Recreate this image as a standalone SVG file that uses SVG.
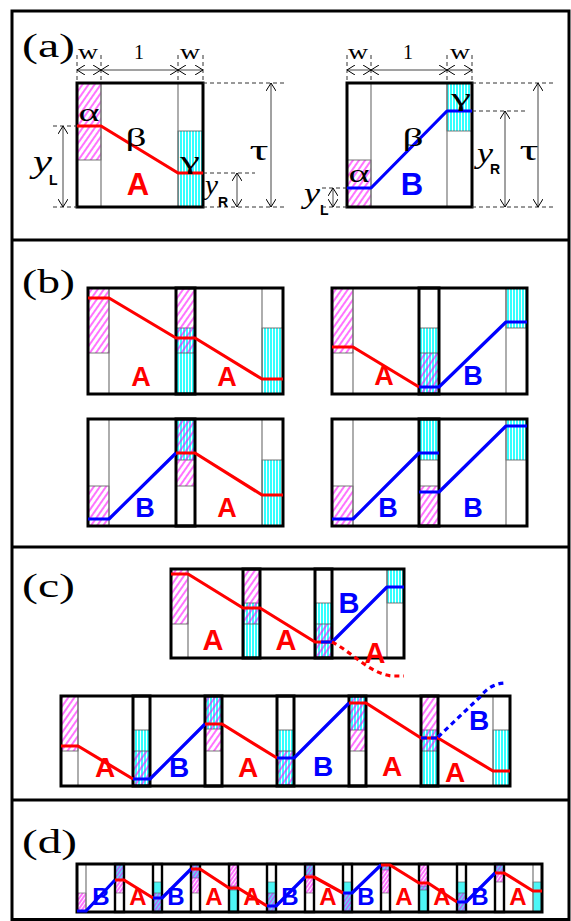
<svg xmlns="http://www.w3.org/2000/svg" width="571" height="921" viewBox="0 0 571 921">
<style>
.box{fill:none;stroke:#000;stroke-width:3}
.jn{fill:none;stroke:#000;stroke-width:3}
.jd{fill:none;stroke:#000;stroke-width:2.4}
.thin{stroke:#777;stroke-width:1.2}
.m{fill:url(#hm);stroke:#555;stroke-width:.8}
.c{fill:url(#hc);stroke:#555;stroke-width:.8}
.m2{fill:url(#hm2);stroke:#555;stroke-width:.6}
.c2{fill:url(#hc2);stroke:#555;stroke-width:.6}
.r{fill:none;stroke:#f00;stroke-width:3.2;stroke-linejoin:round}
.b{fill:none;stroke:#00f;stroke-width:3.2;stroke-linejoin:round}
.dash{stroke:#333;stroke-width:1;stroke-dasharray:4 3;fill:none}
.dim{stroke:#444;stroke-width:1;marker-start:url(#ar);marker-end:url(#ar)}
.ser{font-family:"Liberation Serif","Times New Roman",serif;fill:#000}
.it{font-style:italic}
.sub{font-family:"Liberation Sans",Arial,sans-serif;font-weight:bold;font-size:14px}
.A{font-family:"Liberation Sans",Arial,sans-serif;font-weight:bold;fill:#f00;text-anchor:middle}
.B{font-family:"Liberation Sans",Arial,sans-serif;font-weight:bold;fill:#00f;text-anchor:middle}
</style>
<defs>
<pattern id="hm" width="5" height="5" patternUnits="userSpaceOnUse" patternTransform="rotate(35)"><line x1="1" y1="0" x2="1" y2="5" stroke="#f0f" stroke-width="1.1"/></pattern>
<pattern id="hc" width="3" height="4" patternUnits="userSpaceOnUse"><rect width="3" height="4" fill="#fff"/><line x1="1" y1="0" x2="1" y2="4" stroke="#0ff" stroke-width="1.6"/></pattern>
<pattern id="hm2" width="3" height="3" patternUnits="userSpaceOnUse" patternTransform="rotate(35)"><line x1="1" y1="0" x2="1" y2="3" stroke="#f0f" stroke-width="1.1"/></pattern>
<pattern id="hc2" width="2" height="4" patternUnits="userSpaceOnUse"><rect width="2" height="4" fill="#7ff"/><line x1="1" y1="0" x2="1" y2="4" stroke="#2ee" stroke-width="1"/></pattern>
<marker id="ar" viewBox="0 0 8 10" markerWidth="8" markerHeight="10" refX="8" refY="5" orient="auto-start-reverse" markerUnits="userSpaceOnUse"><path d="M0,0 L8,5 L0,10" fill="none" stroke="#000" stroke-width="1"/></marker>
</defs>

<rect x="0" y="0" width="571" height="921" fill="#fff"/>
<g id="frame">
<rect x="12" y="11" width="557" height="908.5" fill="none" stroke="#000" stroke-width="3"/>
<line x1="12" y1="240" x2="569" y2="240" stroke="#000" stroke-width="3"/>
<line x1="12" y1="547" x2="569" y2="547" stroke="#000" stroke-width="3"/>
<line x1="12" y1="800" x2="569" y2="800" stroke="#000" stroke-width="3"/>
</g>

<g id="panel-labels">
<text class="ser" x="22" y="57" font-size="34" textLength="53" lengthAdjust="spacingAndGlyphs">(a)</text>
<text class="ser" x="22" y="293" font-size="34" textLength="53" lengthAdjust="spacingAndGlyphs">(b)</text>
<text class="ser" x="22" y="597" font-size="34" textLength="53" lengthAdjust="spacingAndGlyphs">(c)</text>
<text class="ser" x="22" y="853" font-size="34" textLength="55" lengthAdjust="spacingAndGlyphs">(d)</text>
</g>

<!-- (a) left -->
<g id="a-left">
<rect x="77" y="83" width="126" height="124" fill="#fff"/>
<rect class="m" x="77" y="83" width="24" height="77"/>
<rect class="c" x="178" y="131" width="25" height="76"/>
<line class="thin" x1="101" y1="83" x2="101" y2="207"/>
<line class="thin" x1="178" y1="83" x2="178" y2="207"/>
<rect class="box" x="77" y="83" width="126" height="124"/>
<polyline class="r" stroke-width="3.6" points="77,126 101,126 178,173 203,173"/>
<text class="ser" x="89" y="121" font-size="26" text-anchor="middle" textLength="21" lengthAdjust="spacingAndGlyphs">α</text>
<text class="ser" x="136" y="146" font-size="26" text-anchor="middle" textLength="21" lengthAdjust="spacingAndGlyphs">β</text>
<text class="ser" x="190" y="169" font-size="26" text-anchor="middle" textLength="20" lengthAdjust="spacingAndGlyphs">γ</text>
<text class="A" x="138" y="195" font-size="31">A</text>
</g>
<g id="a-left-dims">
<line class="dash" x1="77" y1="55" x2="77" y2="83"/>
<line class="dash" x1="101" y1="55" x2="101" y2="83"/>
<line class="dash" x1="178" y1="55" x2="178" y2="83"/>
<line class="dash" x1="203" y1="55" x2="203" y2="83"/>
<line class="dim" x1="77" y1="70" x2="101" y2="70"/>
<line class="dim" x1="101" y1="70" x2="178" y2="70"/>
<line class="dim" x1="178" y1="70" x2="203" y2="70"/>
<text class="ser" x="88" y="59" font-size="22" text-anchor="middle" textLength="20" lengthAdjust="spacingAndGlyphs">w</text>
<text class="ser" x="139" y="59" font-size="20" text-anchor="middle">1</text>
<text class="ser" x="190" y="59" font-size="22" text-anchor="middle" textLength="20" lengthAdjust="spacingAndGlyphs">w</text>
<line class="dash" x1="203" y1="83" x2="285" y2="83"/>
<line class="dash" x1="203" y1="173" x2="255" y2="173"/>
<line class="dash" x1="203" y1="207" x2="285" y2="207"/>
<line class="dash" x1="53" y1="126" x2="77" y2="126"/>
<line class="dash" x1="53" y1="207" x2="77" y2="207"/>
<line class="dim" x1="271" y1="83" x2="271" y2="207"/>
<line class="dim" x1="237" y1="173" x2="237" y2="207"/>
<line class="dim" x1="63" y1="126" x2="63" y2="207"/>
<text class="ser" x="259" y="160" font-size="30" text-anchor="middle" textLength="19" lengthAdjust="spacingAndGlyphs">τ</text>
<text class="ser it" x="33" y="172" font-size="31" textLength="19" lengthAdjust="spacingAndGlyphs">y</text>
<text class="sub" x="49" y="185">L</text>
<text class="ser it" x="205" y="194" font-size="27" textLength="13" lengthAdjust="spacingAndGlyphs">y</text>
<text class="sub" x="218" y="207">R</text>
</g>

<!-- (a) right -->
<g id="a-right">
<rect x="347" y="83" width="125" height="124" fill="#fff"/>
<rect class="m" x="347" y="160" width="24" height="47"/>
<rect class="c" x="447" y="83" width="25" height="48"/>
<line class="thin" x1="371" y1="83" x2="371" y2="207"/>
<line class="thin" x1="447" y1="83" x2="447" y2="207"/>
<rect class="box" x="347" y="83" width="125" height="124"/>
<polyline class="b" stroke-width="3.6" points="347,188 371,188 447,111 472,111"/>
<text class="ser" x="359" y="182" font-size="26" text-anchor="middle" textLength="21" lengthAdjust="spacingAndGlyphs">α</text>
<text class="ser" x="413" y="146" font-size="26" text-anchor="middle" textLength="21" lengthAdjust="spacingAndGlyphs">β</text>
<text class="ser" x="461" y="106" font-size="26" text-anchor="middle" textLength="20" lengthAdjust="spacingAndGlyphs">γ</text>
<text class="B" x="412" y="195" font-size="31">B</text>
</g>
<g id="a-right-dims">
<line class="dash" x1="347" y1="55" x2="347" y2="83"/>
<line class="dash" x1="371" y1="55" x2="371" y2="83"/>
<line class="dash" x1="447" y1="55" x2="447" y2="83"/>
<line class="dash" x1="472" y1="55" x2="472" y2="83"/>
<line class="dim" x1="347" y1="70" x2="371" y2="70"/>
<line class="dim" x1="371" y1="70" x2="447" y2="70"/>
<line class="dim" x1="447" y1="70" x2="472" y2="70"/>
<text class="ser" x="358" y="59" font-size="22" text-anchor="middle" textLength="20" lengthAdjust="spacingAndGlyphs">w</text>
<text class="ser" x="408" y="59" font-size="20" text-anchor="middle">1</text>
<text class="ser" x="460" y="59" font-size="22" text-anchor="middle" textLength="20" lengthAdjust="spacingAndGlyphs">w</text>
<line class="dash" x1="472" y1="83" x2="553" y2="83"/>
<line class="dash" x1="472" y1="111" x2="527" y2="111"/>
<line class="dash" x1="472" y1="207" x2="553" y2="207"/>
<line class="dash" x1="322" y1="188" x2="347" y2="188"/>
<line class="dash" x1="322" y1="207" x2="347" y2="207"/>
<line class="dim" x1="538" y1="83" x2="538" y2="207"/>
<line class="dim" x1="505" y1="111" x2="505" y2="207"/>
<line class="dim" x1="333" y1="188" x2="333" y2="207"/>
<text class="ser" x="529" y="160" font-size="30" text-anchor="middle" textLength="19" lengthAdjust="spacingAndGlyphs">τ</text>
<text class="ser it" x="477" y="163" font-size="29" textLength="16" lengthAdjust="spacingAndGlyphs">y</text>
<text class="sub" x="490" y="174">R</text>
<text class="ser it" x="304" y="203" font-size="29" textLength="16" lengthAdjust="spacingAndGlyphs">y</text>
<text class="sub" x="320" y="215">L</text>
</g>

<!-- (b) top-left: A A -->
<g id="b-AA">
<rect x="88" y="288" width="195" height="106" fill="#fff"/>
<rect class="m" x="88" y="288" width="21" height="65"/>
<rect class="c" x="176" y="328" width="19" height="66"/>
<rect class="m" x="176" y="288" width="19" height="65"/>
<rect class="c" x="262" y="328" width="21" height="66"/>
<line class="thin" x1="109" y1="288" x2="109" y2="394"/>
<line class="thin" x1="262" y1="288" x2="262" y2="394"/>
<rect class="jn" x="176" y="288" width="19" height="106"/>
<rect class="box" x="88" y="288" width="195" height="106"/>
<polyline class="r" points="88,298 109,298 176,338 195,338 262,379 283,379"/>
<text class="A" x="141" y="386" font-size="27">A</text>
<text class="A" x="227" y="386" font-size="27">A</text>
</g>

<!-- (b) bottom-left: B A -->
<g id="b-BA">
<rect x="88" y="419" width="195" height="107" fill="#fff"/>
<rect class="m" x="88" y="486" width="21" height="40"/>
<rect class="c" x="176" y="419" width="19" height="41"/>
<rect class="m" x="176" y="419" width="19" height="67"/>
<rect class="c" x="262" y="460" width="21" height="66"/>
<line class="thin" x1="109" y1="419" x2="109" y2="526"/>
<line class="thin" x1="262" y1="419" x2="262" y2="526"/>
<rect class="jn" x="176" y="419" width="19" height="107"/>
<rect class="box" x="88" y="419" width="195" height="107"/>
<polyline class="b" points="88,519 109,519 176,453"/>
<polyline class="r" points="176,453 195,453 262,495 283,495"/>
<text class="B" x="145" y="517" font-size="27">B</text>
<text class="A" x="227" y="517" font-size="27">A</text>
</g>

<!-- (b) top-right: A B -->
<g id="b-AB">
<rect x="332" y="288" width="195" height="106" fill="#fff"/>
<rect class="m" x="332" y="288" width="21" height="65"/>
<rect class="c" x="419" y="328" width="20" height="66"/>
<rect class="m" x="419" y="353" width="20" height="41"/>
<rect class="c" x="506" y="288" width="21" height="40"/>
<line class="thin" x1="353" y1="288" x2="353" y2="394"/>
<line class="thin" x1="506" y1="288" x2="506" y2="394"/>
<rect class="jn" x="419" y="288" width="20" height="106"/>
<rect class="box" x="332" y="288" width="195" height="106"/>
<polyline class="r" points="332,347 353,347 419,387"/>
<polyline class="b" points="419,387 439,387 506,322 527,322"/>
<text class="A" x="384" y="385" font-size="27">A</text>
<text class="B" x="473" y="385" font-size="27">B</text>
</g>

<!-- (b) bottom-right: B B -->
<g id="b-BB">
<rect x="332" y="419" width="195" height="107" fill="#fff"/>
<rect class="m" x="332" y="486" width="21" height="40"/>
<rect class="c" x="419" y="419" width="20" height="41"/>
<rect class="m" x="419" y="486" width="20" height="40"/>
<rect class="c" x="506" y="419" width="21" height="41"/>
<line class="thin" x1="353" y1="419" x2="353" y2="526"/>
<line class="thin" x1="506" y1="419" x2="506" y2="526"/>
<rect class="jn" x="419" y="419" width="20" height="107"/>
<rect class="box" x="332" y="419" width="195" height="107"/>
<polyline class="b" points="332,519 353,519 419,453 439,453"/>
<polyline class="b" points="419,492 439,492 506,426 527,426"/>
<text class="B" x="388" y="517" font-size="27">B</text>
<text class="B" x="473" y="517" font-size="27">B</text>
</g>

<!-- (c) top chain -->
<g id="c-top">
<rect x="171" y="569" width="233" height="89" fill="#fff"/>
<rect class="m" x="171" y="569" width="17" height="55"/>
<rect class="c" x="243" y="603" width="17" height="55"/>
<rect class="m" x="243" y="569" width="17" height="55"/>
<rect class="c" x="315" y="603" width="17" height="55"/>
<rect class="m" x="315" y="624" width="17" height="34"/>
<rect class="c" x="387" y="569" width="17" height="34"/>
<line class="thin" x1="188" y1="569" x2="188" y2="658"/>
<line class="thin" x1="387" y1="569" x2="387" y2="658"/>
<rect class="jn" x="243" y="569" width="17" height="89"/>
<rect class="jn" x="315" y="569" width="17" height="89"/>
<rect class="box" x="171" y="569" width="233" height="89"/>
<polyline class="r" points="171,574 188,574 243,608 260,608 315,642 332,642"/>
<polyline class="b" points="321,642 332,642 387,587 404,587"/>
<path class="r" d="M332,642 C352,652 370,674 392,676 L404,676" stroke-dasharray="5 4"/>
<text class="A" x="213" y="650" font-size="29">A</text>
<text class="A" x="286" y="650" font-size="29">A</text>
<text class="B" x="349" y="613" font-size="29">B</text>
<text class="A" x="375" y="663" font-size="29">A</text>
</g>

<!-- (c) bottom chain -->
<g id="c-bottom">
<rect x="61" y="696" width="449" height="90" fill="#fff"/>
<rect class="m" x="61" y="696" width="17" height="55"/>
<rect class="c" x="133" y="730" width="17" height="56"/>
<rect class="m" x="133" y="751" width="17" height="35"/>
<rect class="c" x="205" y="696" width="17" height="33"/>
<rect class="m" x="205" y="696" width="17" height="55"/>
<rect class="c" x="277" y="730" width="17" height="56"/>
<rect class="m" x="277" y="751" width="17" height="35"/>
<rect class="c" x="349" y="696" width="17" height="34"/>
<rect class="m" x="349" y="696" width="17" height="55"/>
<rect class="c" x="421" y="730" width="17" height="56"/>
<rect class="m" x="421" y="696" width="17" height="55"/>
<rect class="c" x="493" y="730" width="17" height="56"/>
<line class="thin" x1="78" y1="696" x2="78" y2="786"/>
<line class="thin" x1="493" y1="696" x2="493" y2="786"/>
<rect class="jn" x="133" y="696" width="17" height="90"/>
<rect class="jn" x="205" y="696" width="17" height="90"/>
<rect class="jn" x="277" y="696" width="17" height="90"/>
<rect class="jn" x="349" y="696" width="17" height="90"/>
<rect class="jn" x="421" y="696" width="17" height="90"/>
<rect class="box" x="61" y="696" width="449" height="90"/>
<polyline class="r" points="61,746 78,746 133,779"/>
<polyline class="b" points="133,779 150,779 205,724"/>
<polyline class="r" points="205,724 222,724 277,758"/>
<polyline class="b" points="277,758 294,758 349,703"/>
<polyline class="r" points="349,703 366,703 421,738 438,738 493,771 510,771"/>
<path class="b" d="M421,738 H438" stroke-dasharray="6 4"/>
<path class="b" d="M438,737 L480,697 Q490,684 504,683" stroke-dasharray="5 4"/>
<text class="A" x="105" y="777" font-size="28">A</text>
<text class="B" x="179" y="777" font-size="28">B</text>
<text class="A" x="248" y="777" font-size="28">A</text>
<text class="B" x="323" y="776" font-size="28">B</text>
<text class="A" x="392" y="776" font-size="28">A</text>
<text class="A" x="455" y="782" font-size="28">A</text>
<text class="B" x="479" y="730" font-size="28">B</text>
</g>

<!-- (d) chain -->
<g id="d-chain">
<rect x="77" y="864" width="465" height="48" fill="#fff"/>
<rect class="m2" x="77" y="893" width="9" height="19"/>
<rect class="c2" x="115" y="864" width="9" height="16"/>
<rect class="m2" x="115" y="864" width="9" height="29"/>
<rect class="c2" x="153" y="882" width="9" height="30"/>
<rect class="m2" x="153" y="893" width="9" height="19"/>
<rect class="c2" x="191" y="864" width="9" height="14"/>
<rect class="m2" x="191" y="864" width="9" height="29"/>
<rect class="c2" x="229" y="886" width="9" height="26"/>
<rect class="m2" x="229" y="864" width="9" height="26"/>
<rect class="c2" x="267" y="882" width="9" height="30"/>
<rect class="m2" x="267" y="893" width="9" height="19"/>
<rect class="c2" x="305" y="864" width="9" height="11"/>
<rect class="m2" x="305" y="864" width="9" height="29"/>
<rect class="c2" x="343" y="882" width="9" height="30"/>
<rect class="m2" x="343" y="893" width="9" height="19"/>
<rect class="c2" x="381" y="864" width="9" height="6"/>
<rect class="m2" x="381" y="864" width="9" height="29"/>
<rect class="c2" x="419" y="886" width="9" height="26"/>
<rect class="m2" x="419" y="864" width="9" height="26"/>
<rect class="c2" x="457" y="882" width="9" height="30"/>
<rect class="m2" x="457" y="893" width="9" height="19"/>
<rect class="c2" x="495" y="864" width="9" height="9"/>
<rect class="m2" x="495" y="864" width="9" height="18"/>
<rect class="c2" x="533" y="882" width="9" height="30"/>
<line class="thin" x1="86" y1="864" x2="86" y2="912"/>
<line class="thin" x1="533" y1="864" x2="533" y2="912"/>
<rect class="jd" x="115" y="864" width="9" height="48"/>
<rect class="jd" x="153" y="864" width="9" height="48"/>
<rect class="jd" x="191" y="864" width="9" height="48"/>
<rect class="jd" x="229" y="864" width="9" height="48"/>
<rect class="jd" x="267" y="864" width="9" height="48"/>
<rect class="jd" x="305" y="864" width="9" height="48"/>
<rect class="jd" x="343" y="864" width="9" height="48"/>
<rect class="jd" x="381" y="864" width="9" height="48"/>
<rect class="jd" x="419" y="864" width="9" height="48"/>
<rect class="jd" x="457" y="864" width="9" height="48"/>
<rect class="jd" x="495" y="864" width="9" height="48"/>
<rect class="box" x="77" y="864" width="465" height="48"/>
<polyline class="b" points="77,911 86,911 115,880"/>
<polyline class="r" points="115,880 124,880 153,898"/>
<polyline class="b" points="153,898 162,898 191,869"/>
<polyline class="r" points="191,869 200,869 229,888 238,888 267,906"/>
<polyline class="b" points="267,906 276,906 305,877"/>
<polyline class="r" points="305,877 314,877 343,893"/>
<polyline class="b" points="343,893 352,893 381,865"/>
<polyline class="r" points="381,865 390,865 419,883 428,883 457,902"/>
<polyline class="b" points="457,902 466,902 495,873"/>
<polyline class="r" points="495,873 504,873 533,891 542,891"/>
<g font-size="24">
<text class="B" x="101" y="905">B</text>
<text class="A" x="138" y="905">A</text>
<text class="B" x="176" y="905">B</text>
<text class="A" x="214" y="905">A</text>
<text class="A" x="252" y="905">A</text>
<text class="B" x="290" y="905">B</text>
<text class="A" x="328" y="905">A</text>
<text class="B" x="366" y="905">B</text>
<text class="A" x="404" y="905">A</text>
<text class="A" x="442" y="905">A</text>
<text class="B" x="480" y="905">B</text>
<text class="A" x="518" y="905">A</text>
</g>
</g>
</svg>
